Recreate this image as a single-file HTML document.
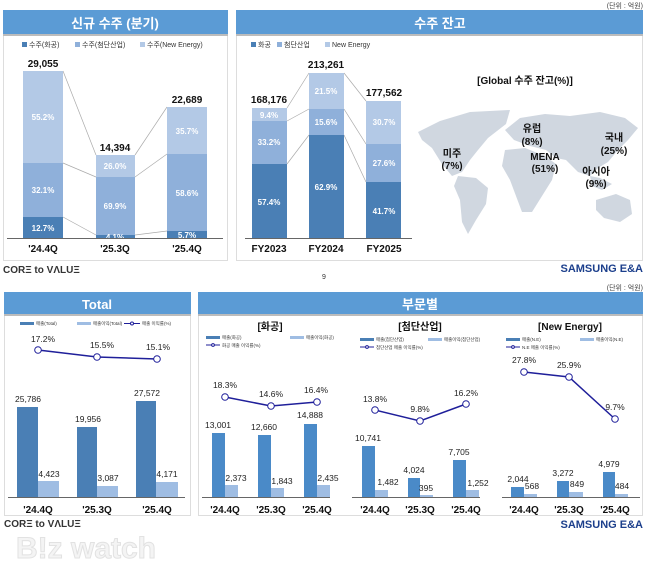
<!DOCTYPE html><html><head><meta charset="utf-8"><style>
body{margin:0;background:#fff}
svg{display:block;font-family:"Liberation Sans","Noto Sans CJK KR",sans-serif}
.w{fill:#fff;font-weight:bold;font-size:8px;text-anchor:middle}
.t{font-weight:bold;font-size:10px;text-anchor:middle;fill:#111}
.x{font-weight:bold;font-size:10px;text-anchor:middle;fill:#111}
.v{font-size:8.5px;text-anchor:middle;fill:#222}
.lg{font-size:7px;fill:#333}
.sl{font-size:4.5px;fill:#333}
.h{fill:#fff;font-weight:bold;font-size:13px;text-anchor:middle}
</style></head><body>
<svg width="645" height="572" viewBox="0 0 645 572">
<rect width="645" height="572" fill="#fff"/>
<text x="643" y="8" font-size="7" text-anchor="end" fill="#444">(단위 : 억원)</text>
<!-- top-left panel -->
<rect x="3.5" y="10.5" width="224" height="250" fill="#fff" stroke="#ddd"/>
<rect x="3" y="10" width="225" height="25" fill="#5b9bd5"/><rect x="3" y="34" width="225" height="2" fill="#bcbcbc"/>
<text class="h" x="115" y="28">신규 수주 (분기)</text>
<g class="lg"><rect x="22" y="42" width="5" height="5" fill="#4a7fb5"/><text x="29" y="47">수주(화공)</text>
<rect x="75" y="42" width="5" height="5" fill="#8fb0da"/><text x="82" y="47">수주(첨단산업)</text>
<rect x="140" y="42" width="5" height="5" fill="#b3c9e6"/><text x="147" y="47">수주(New Energy)</text></g>
<g stroke="#aaa" stroke-width="0.7"><line x1="63" y1="71" x2="96" y2="155"/><line x1="63" y1="163" x2="96" y2="177"/><line x1="63" y1="217" x2="96" y2="235"/>
<line x1="135" y1="155" x2="167" y2="107"/><line x1="135" y1="177" x2="167" y2="154"/><line x1="135" y1="235" x2="167" y2="231"/></g>
<rect x="23" y="71" width="40" height="92" fill="#b3c9e6"/><rect x="23" y="163" width="40" height="54" fill="#8fb0da"/><rect x="23" y="217" width="40" height="21" fill="#4a7fb5"/>
<rect x="96" y="155" width="39" height="22" fill="#b3c9e6"/><rect x="96" y="177" width="39" height="58" fill="#8fb0da"/><rect x="96" y="235" width="39" height="3" fill="#4a7fb5"/>
<rect x="167" y="107" width="40" height="47" fill="#b3c9e6"/><rect x="167" y="154" width="40" height="77" fill="#8fb0da"/><rect x="167" y="231" width="40" height="7" fill="#4a7fb5"/>
<g class="w"><text x="43" y="120">55.2%</text><text x="43" y="193">32.1%</text><text x="43" y="231">12.7%</text>
<text x="115" y="169">26.0%</text><text x="115" y="209">69.9%</text><text x="115" y="240">4.1%</text>
<text x="187" y="134">35.7%</text><text x="187" y="196">58.6%</text><text x="187" y="238">5.7%</text></g>
<line x1="7" y1="238.5" x2="223" y2="238.5" stroke="#666"/>
<g class="t"><text x="43" y="67">29,055</text><text x="115" y="151">14,394</text><text x="187" y="103">22,689</text></g>
<g class="x"><text x="43" y="252">'24.4Q</text><text x="115" y="252">'25.3Q</text><text x="187" y="252">'25.4Q</text></g>
<!-- top-right panel -->
<rect x="236.5" y="10.5" width="406" height="250" fill="#fff" stroke="#ddd"/>
<rect x="236" y="10" width="407" height="25" fill="#5b9bd5"/><rect x="236" y="34" width="407" height="2" fill="#bcbcbc"/>
<text class="h" x="440" y="28">수주 잔고</text>
<g class="lg"><rect x="251" y="42" width="5" height="5" fill="#4a7fb5"/><text x="258" y="47">화공</text>
<rect x="277" y="42" width="5" height="5" fill="#8fb0da"/><text x="284" y="47">첨단산업</text>
<rect x="325" y="42" width="5" height="5" fill="#b3c9e6"/><text x="332" y="47">New Energy</text></g>
<g stroke="#aaa" stroke-width="0.7"><line x1="287" y1="108" x2="309" y2="73"/><line x1="287" y1="121" x2="309" y2="109"/><line x1="287" y1="164" x2="309" y2="135"/>
<line x1="344" y1="73" x2="366" y2="101"/><line x1="344" y1="109" x2="366" y2="144"/><line x1="344" y1="135" x2="366" y2="182"/></g>
<rect x="252" y="108" width="35" height="13" fill="#b3c9e6"/><rect x="252" y="121" width="35" height="43" fill="#8fb0da"/><rect x="252" y="164" width="35" height="74" fill="#4a7fb5"/>
<rect x="309" y="73" width="35" height="36" fill="#b3c9e6"/><rect x="309" y="109" width="35" height="26" fill="#8fb0da"/><rect x="309" y="135" width="35" height="103" fill="#4a7fb5"/>
<rect x="366" y="101" width="35" height="43" fill="#b3c9e6"/><rect x="366" y="144" width="35" height="38" fill="#8fb0da"/><rect x="366" y="182" width="35" height="56" fill="#4a7fb5"/>
<g class="w"><text x="269" y="118">9.4%</text><text x="269" y="145">33.2%</text><text x="269" y="205">57.4%</text>
<text x="326" y="94">21.5%</text><text x="326" y="125">15.6%</text><text x="326" y="190">62.9%</text>
<text x="384" y="125">30.7%</text><text x="384" y="166">27.6%</text><text x="384" y="214">41.7%</text></g>
<line x1="245" y1="238.5" x2="412" y2="238.5" stroke="#666"/>
<g class="t"><text x="269" y="103">168,176</text><text x="326" y="68">213,261</text><text x="384" y="96">177,562</text></g>
<g class="x"><text x="269" y="252">FY2023</text><text x="326" y="252">FY2024</text><text x="384" y="252">FY2025</text></g>
<!-- map -->
<g fill="#d0d7e0">
<path d="M418 132 L440 121 L470 112 L510 110 L506 124 L488 138 L478 150 L470 160 L462 172 L452 176 L442 164 L432 148 L422 140Z"/>
<path d="M458 176 L476 178 L488 188 L486 204 L476 220 L468 234 L462 222 L460 200 L454 186Z"/>
<path d="M505 130 L520 118 L545 114 L570 116 L600 112 L625 118 L638 128 L628 140 L618 150 L608 162 L598 168 L590 176 L578 172 L566 160 L556 158 L546 150 L530 146 L514 140Z"/>
<path d="M505 150 L525 148 L545 156 L556 164 L552 180 L542 196 L532 212 L522 212 L516 196 L510 180 L502 166Z"/>
<path d="M590 176 L600 178 L612 184 L602 190 L592 186Z"/>
<path d="M596 200 L616 194 L630 200 L632 214 L620 222 L604 218 L596 210Z"/>
</g>
<text x="525" y="84" font-size="10" font-weight="bold" text-anchor="middle" fill="#111">[Global 수주 잔고(%)]</text>
<g font-size="10" font-weight="bold" text-anchor="middle" fill="#111">
<text x="452" y="157">미주</text><text x="452" y="169">(7%)</text>
<text x="532" y="132">유럽</text><text x="532" y="145">(8%)</text>
<text x="545" y="160">MENA</text><text x="545" y="172">(51%)</text>
<text x="614" y="141">국내</text><text x="614" y="154">(25%)</text>
<text x="596" y="175">아시아</text><text x="596" y="187">(9%)</text></g>
<text x="3" y="273" font-size="10" font-weight="bold" fill="#333">CORΞ to VΛLUΞ</text>
<text x="322" y="279" font-size="7" fill="#333">9</text>
<text x="643" y="272" font-size="11" font-weight="bold" text-anchor="end" fill="#1c3f8c">SAMSUNG E&amp;A</text>
<text x="643" y="290" font-size="7" text-anchor="end" fill="#444">(단위 : 억원)</text>
<!-- bottom Total -->
<rect x="4.5" y="292.5" width="186" height="223" fill="#fff" stroke="#ddd"/>
<rect x="4" y="292" width="187" height="23" fill="#5b9bd5"/><rect x="4" y="314" width="187" height="2" fill="#bcbcbc"/>
<text class="h" x="97" y="309">Total</text>
<g class="sl" font-size="5"><rect x="20" y="322" width="14" height="3" fill="#4a7fb5"/><text x="36" y="325">매출(Total)</text>
<rect x="77" y="322" width="14" height="3" fill="#9fbde3"/><text x="93" y="325">매출이익(Total)</text>
<line x1="124" y1="323.5" x2="140" y2="323.5" stroke="#1f1f9a"/><circle cx="132" cy="323.5" r="1.5" fill="#fff" stroke="#1f1f9a"/><text x="142" y="325">매출 이익률(%)</text></g>
<rect x="17" y="407" width="21" height="90" fill="#4a7fb5"/><rect x="38" y="481" width="21" height="16" fill="#9fbde3"/>
<rect x="77" y="427" width="20" height="70" fill="#4a7fb5"/><rect x="97" y="486" width="21" height="11" fill="#9fbde3"/>
<rect x="136" y="401" width="20" height="96" fill="#4a7fb5"/><rect x="156" y="482" width="22" height="15" fill="#9fbde3"/>
<polyline points="38,350 97,357 157,359" fill="none" stroke="#1f1f9a" stroke-width="1.5"/>
<g fill="#fff" stroke="#1f1f9a"><circle cx="38" cy="350" r="3.3"/><circle cx="97" cy="357" r="3.3"/><circle cx="157" cy="359" r="3.3"/></g>
<g class="v"><text x="43" y="342">17.2%</text><text x="102" y="348">15.5%</text><text x="158" y="350">15.1%</text>
<text x="28" y="402">25,786</text><text x="49" y="477">4,423</text><text x="88" y="422">19,956</text><text x="108" y="481">3,087</text>
<text x="147" y="396">27,572</text><text x="167" y="477">4,171</text></g>
<line x1="8" y1="497.5" x2="185" y2="497.5" stroke="#666"/>
<g class="x"><text x="38" y="513">'24.4Q</text><text x="97" y="513">'25.3Q</text><text x="157" y="513">'25.4Q</text></g>
<!-- 부문별 -->
<rect x="198.5" y="292.5" width="444" height="223" fill="#fff" stroke="#ddd"/>
<rect x="198" y="292" width="445" height="23" fill="#5b9bd5"/><rect x="198" y="314" width="445" height="2" fill="#bcbcbc"/>
<text class="h" x="420" y="309">부문별</text>
<g class="t"><text x="270" y="330">[화공]</text><text x="420" y="330">[첨단산업]</text><text x="570" y="330">[New Energy]</text></g>
<g class="sl">
<rect x="206" y="336" width="14" height="3" fill="#4a7fb5"/><text x="222" y="339">매출(화공)</text>
<rect x="290" y="336" width="14" height="3" fill="#9fbde3"/><text x="306" y="339">매출이익(화공)</text>
<line x1="206" y1="345" x2="220" y2="345" stroke="#1f1f9a"/><circle cx="213" cy="345" r="1.4" fill="#fff" stroke="#1f1f9a"/><text x="222" y="347">화공 매출 이익률(%)</text>
<rect x="360" y="338" width="14" height="3" fill="#4a7fb5"/><text x="376" y="341">매출(첨단산업)</text>
<rect x="428" y="338" width="14" height="3" fill="#9fbde3"/><text x="444" y="341">매출이익(첨단산업)</text>
<line x1="360" y1="347" x2="374" y2="347" stroke="#1f1f9a"/><circle cx="367" cy="347" r="1.4" fill="#fff" stroke="#1f1f9a"/><text x="376" y="349">첨단산업 매출 이익률(%)</text>
<rect x="506" y="338" width="14" height="3" fill="#4a7fb5"/><text x="522" y="341">매출(N.E)</text>
<rect x="580" y="338" width="14" height="3" fill="#9fbde3"/><text x="596" y="341">매출이익(N.E)</text>
<line x1="506" y1="347" x2="520" y2="347" stroke="#1f1f9a"/><circle cx="513" cy="347" r="1.4" fill="#fff" stroke="#1f1f9a"/><text x="522" y="349">N.E 매출 이익률(%)</text></g>
<g fill="#4a8ac8">
<rect x="212" y="433" width="13" height="64"/><rect x="258" y="435" width="13" height="62"/><rect x="304" y="424" width="13" height="73"/>
<rect x="362" y="446" width="13" height="51"/><rect x="408" y="478" width="12" height="19"/><rect x="453" y="460" width="13" height="37"/>
<rect x="511" y="487" width="13" height="10"/><rect x="557" y="481" width="12" height="16"/><rect x="603" y="472" width="12" height="25"/></g>
<g fill="#9fbde3">
<rect x="225" y="485" width="13" height="12"/><rect x="271" y="488" width="13" height="9"/><rect x="317" y="485" width="13" height="12"/>
<rect x="375" y="490" width="13" height="7"/><rect x="420" y="495" width="13" height="2"/><rect x="466" y="490" width="13" height="7"/>
<rect x="524" y="494" width="13" height="3"/><rect x="569" y="492" width="14" height="5"/><rect x="615" y="494" width="13" height="3"/></g>
<g fill="none" stroke="#1f1f9a" stroke-width="1.5"><polyline points="225,397 271,406 317,402"/><polyline points="375,410 420,421 466,404"/><polyline points="524,372 569,377 615,419"/></g>
<g fill="#fff" stroke="#1f1f9a"><circle cx="225" cy="397" r="3.3"/><circle cx="271" cy="406" r="3.3"/><circle cx="317" cy="402" r="3.3"/>
<circle cx="375" cy="410" r="3.3"/><circle cx="420" cy="421" r="3.3"/><circle cx="466" cy="404" r="3.3"/>
<circle cx="524" cy="372" r="3.3"/><circle cx="569" cy="377" r="3.3"/><circle cx="615" cy="419" r="3.3"/></g>
<g class="v" font-size="7.5">
<text x="225" y="388">18.3%</text><text x="271" y="397">14.6%</text><text x="316" y="393">16.4%</text>
<text x="218" y="428">13,001</text><text x="264" y="430">12,660</text><text x="310" y="418">14,888</text>
<text x="236" y="481">2,373</text><text x="282" y="484">1,843</text><text x="328" y="481">2,435</text>
<text x="375" y="402">13.8%</text><text x="420" y="412">9.8%</text><text x="466" y="396">16.2%</text>
<text x="368" y="441">10,741</text><text x="414" y="473">4,024</text><text x="459" y="455">7,705</text>
<text x="388" y="485">1,482</text><text x="426" y="491">395</text><text x="478" y="486">1,252</text>
<text x="524" y="363">27.8%</text><text x="569" y="368">25.9%</text><text x="615" y="410">9.7%</text>
<text x="518" y="482">2,044</text><text x="563" y="476">3,272</text><text x="609" y="467">4,979</text>
<text x="532" y="489">568</text><text x="577" y="487">849</text><text x="622" y="489">484</text></g>
<g stroke="#666"><line x1="202" y1="497.5" x2="330" y2="497.5"/><line x1="352" y1="497.5" x2="480" y2="497.5"/><line x1="502" y1="497.5" x2="640" y2="497.5"/></g>
<g class="x"><text x="225" y="513">'24.4Q</text><text x="271" y="513">'25.3Q</text><text x="317" y="513">'25.4Q</text>
<text x="375" y="513">'24.4Q</text><text x="420" y="513">'25.3Q</text><text x="466" y="513">'25.4Q</text>
<text x="524" y="513">'24.4Q</text><text x="569" y="513">'25.3Q</text><text x="615" y="513">'25.4Q</text></g>
<text x="4" y="527" font-size="10" font-weight="bold" fill="#333">CORΞ to VΛLUΞ</text>
<text x="643" y="528" font-size="11" font-weight="bold" text-anchor="end" fill="#1c3f8c">SAMSUNG E&amp;A</text>
<text x="16" y="558" font-size="30" font-weight="bold" fill="#f4f4f4" stroke="#e2e2e2" stroke-width="1">B!z watch</text>
</svg></body></html>
